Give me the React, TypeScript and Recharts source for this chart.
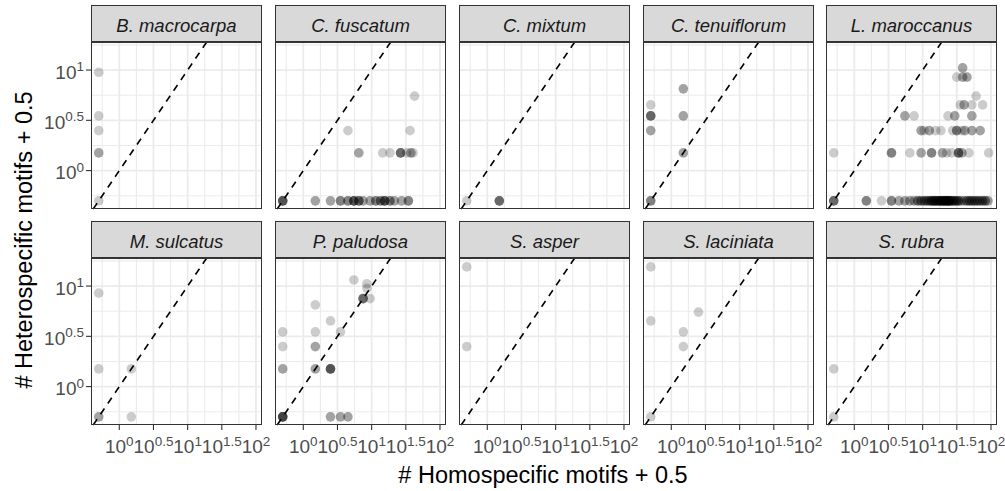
import React from 'react';
import { ScatterChart, Scatter, XAxis, YAxis, ReferenceLine } from 'recharts';

type Obs = [number, number, number]; // [homospecific + 0.5, heterospecific + 0.5, overlapping count]

const FONT = '"Liberation Sans", Arial, Helvetica, sans-serif';

const SPECIES = [
  'B. macrocarpa', 'C. fuscatum', 'C. mixtum', 'C. tenuiflorum', 'L. maroccanus',
  'M. sulcatus', 'P. paludosa', 'S. asper', 'S. laciniata', 'S. rubra',
];

const B_MACROCARPA: Obs[] = [[0.5, 9.5, 1], [0.5, 3.5, 1], [0.5, 2.5, 1], [0.5, 1.5, 2], [0.5, 0.5, 1]];

const C_FUSCATUM: Obs[] = [
  [0.5, 0.5, 5], [1.5, 0.5, 2], [2.5, 0.5, 2], [3.5, 0.5, 3], [4.5, 0.5, 3], [5.5, 0.5, 5],
  [6.5, 0.5, 4], [7.5, 0.5, 2], [9.5, 0.5, 2], [11.5, 0.5, 3], [13.5, 0.5, 3], [15.5, 0.5, 5],
  [18.5, 0.5, 3], [21.5, 0.5, 2], [27.5, 0.5, 2], [34.5, 0.5, 3],
  [6.5, 1.5, 2], [14.5, 1.5, 1], [18.5, 1.5, 1], [26.5, 1.5, 4], [32.5, 1.5, 1], [37.5, 1.5, 2], [40.5, 1.5, 1],
  [4.5, 2.5, 1], [36.5, 2.5, 1],
  [42.5, 5.5, 1],
];

const C_MIXTUM: Obs[] = [[0.5, 0.5, 1], [1.5, 0.5, 4]];

const C_TENUIFLORUM: Obs[] = [
  [0.5, 4.5, 1], [0.5, 3.5, 4], [0.5, 2.5, 2], [0.5, 0.5, 3],
  [1.5, 6.5, 2], [1.5, 3.5, 2], [1.5, 1.5, 2],
];

const L_MAROCCANUS: Obs[] = [
  [38.5, 10.5, 2],
  [31.5, 8.5, 1], [38.5, 8.5, 2], [44.5, 8.5, 2],
  [60.5, 5.5, 1],
  [35.5, 4.5, 1], [40.5, 4.5, 2], [52.5, 4.5, 1], [75.5, 4.5, 1],
  [5.5, 3.5, 2], [7.5, 3.5, 1], [23.5, 3.5, 1], [29.5, 3.5, 2], [52.5, 3.5, 2],
  [9.5, 2.5, 2], [10.5, 2.5, 1], [12.5, 2.5, 2], [15.5, 2.5, 1], [18.5, 2.5, 1], [27.5, 2.5, 1],
  [31.5, 2.5, 3], [37.5, 2.5, 1], [41.5, 2.5, 2], [52.5, 2.5, 2], [69.5, 2.5, 2],
  [0.5, 1.5, 1], [3.5, 1.5, 3], [6.5, 1.5, 1], [9.5, 1.5, 2], [13.5, 1.5, 3], [19.5, 1.5, 2],
  [22.5, 1.5, 1], [26.5, 1.5, 1], [33.5, 1.5, 4], [37.5, 1.5, 2], [47.5, 1.5, 1], [92.5, 1.5, 1],
  [0.5, 0.5, 4], [1.5, 0.5, 3], [2.5, 0.5, 1], [3.5, 0.5, 3], [4.5, 0.5, 2], [5.5, 0.5, 2],
  [6.5, 0.5, 2], [7.5, 0.5, 2], [8.5, 0.5, 3], [9.5, 0.5, 3], [10.5, 0.5, 3], [11.5, 0.5, 3],
  [12.5, 0.5, 3], [13.5, 0.5, 4], [14.5, 0.5, 4], [15.5, 0.5, 4], [16.5, 0.5, 3], [17.5, 0.5, 4],
  [18.5, 0.5, 4], [19.5, 0.5, 3], [20.5, 0.5, 4], [21.5, 0.5, 3], [22.5, 0.5, 4], [23.5, 0.5, 3],
  [24.5, 0.5, 4], [25.5, 0.5, 3], [27.5, 0.5, 4], [29.5, 0.5, 3], [31.5, 0.5, 3], [33.5, 0.5, 3],
  [36.5, 0.5, 2], [40.5, 0.5, 2], [44.5, 0.5, 3], [48.5, 0.5, 3], [52.5, 0.5, 3], [57.5, 0.5, 3],
  [62.5, 0.5, 3], [68.5, 0.5, 3], [75.5, 0.5, 3], [82.5, 0.5, 3], [90.5, 0.5, 2],
];

const M_SULCATUS: Obs[] = [[0.5, 8.5, 1], [0.5, 1.5, 1], [1.5, 1.5, 1], [0.5, 0.5, 2], [1.5, 0.5, 1]];

const P_PALUDOSA: Obs[] = [
  [5.5, 11.5, 1], [8.5, 10.5, 1], [8.5, 9.5, 1], [7.5, 7.5, 4], [9.5, 7.5, 1], [1.5, 6.5, 1],
  [2.5, 4.5, 1], [3.5, 3.5, 1], [0.5, 3.5, 1], [1.5, 3.5, 1], [0.5, 2.5, 1], [1.5, 2.5, 2],
  [0.5, 1.5, 2], [1.5, 1.5, 2], [2.5, 1.5, 5],
  [0.5, 0.5, 6], [2.5, 0.5, 2], [3.5, 0.5, 2], [4.5, 0.5, 2],
];

const S_ASPER: Obs[] = [[0.5, 15.5, 1], [0.5, 2.5, 1]];

const S_LACINIATA: Obs[] = [[0.5, 15.5, 1], [0.5, 4.5, 1], [2.5, 5.5, 1], [1.5, 3.5, 1], [1.5, 2.5, 1], [0.5, 0.5, 1]];

const S_RUBRA: Obs[] = [[0.5, 1.5, 1], [0.5, 0.5, 1]];

const SPECIES_DATA: Obs[][] = [
  B_MACROCARPA, C_FUSCATUM, C_MIXTUM, C_TENUIFLORUM, L_MAROCCANUS,
  M_SULCATUS, P_PALUDOSA, S_ASPER, S_LACINIATA, S_RUBRA,
];

const X_TICK_EXPONENTS = [0, 0.5, 1, 1.5, 2];
const Y_TICK_EXPONENTS = [0, 0.5, 1];
const X_MINOR_EXPONENTS = [-0.25, 0.25, 0.75, 1.25, 1.75];
const Y_MINOR_EXPONENTS = [-0.25, 0.25, 0.75, 1.25];
const X_DOMAIN_EXPONENTS = [-0.414, 2.088];
const Y_DOMAIN_EXPONENTS = [-0.382, 1.279];

const X_TITLE = '# Homospecific motifs + 0.5';
const Y_TITLE = '# Heterospecific motifs + 0.5';

// layout
const PANEL_W = 171;
const PANEL_H = 167;
const STRIP_H = 37;
const COL_LEFT = [91, 275, 459, 643, 826];
const ROW_PANEL_TOP = [42, 258];
const PAD = 22;
const Y_AXIS_W = 69;
const X_AXIS_H = 36;

const pow10 = (e: number) => Math.pow(10, e);
const X_TICKS = X_TICK_EXPONENTS.map(pow10);
const Y_TICKS = Y_TICK_EXPONENTS.map(pow10);
const X_DOMAIN = X_DOMAIN_EXPONENTS.map(pow10);
const Y_DOMAIN = Y_DOMAIN_EXPONENTS.map(pow10);

const expLabel = (value: number, exps: number[]) => {
  const lv = Math.log10(value);
  let best = exps[0];
  for (const e of exps) if (Math.abs(e - lv) < Math.abs(best - lv)) best = e;
  return String(best);
};

const TICK_FONT = 19;
const SUP_FONT = 13.5;

const XTick = (props: any) => {
  const { x, y, payload } = props;
  return (
    <text x={x} y={y + 23} textAnchor="middle" fill="#4D4D4D" fontSize={TICK_FONT} fontFamily={FONT}>
      <tspan>10</tspan>
      <tspan dy={-7.5} fontSize={SUP_FONT}>{expLabel(payload.value, X_TICK_EXPONENTS)}</tspan>
    </text>
  );
};

const YTick = (props: any) => {
  const { x, y, payload } = props;
  return (
    <text x={x} y={y + 8.5} textAnchor="end" fill="#4D4D4D" fontSize={TICK_FONT} fontFamily={FONT}>
      <tspan>10</tspan>
      <tspan dy={-7.5} fontSize={SUP_FONT}>{expLabel(payload.value, Y_TICK_EXPONENTS)}</tspan>
    </text>
  );
};

const Dot = (p: any) => (
  <circle cx={p.cx} cy={p.cy} r={4.8} fill="#000000" fillOpacity={0.2} />
);

const expand = (obs: Obs[]) => {
  const out: { x: number; y: number }[] = [];
  obs.forEach(([x, y, n]) => {
    for (let k = 0; k < n; k++) out.push({ x, y });
  });
  return out;
};

const Panel = ({ index }: { index: number }) => {
  const r = Math.floor(index / 5);
  const c = index % 5;
  const hasY = c === 0;
  const hasX = r === 1;
  const left = COL_LEFT[c] - PAD - (hasY ? Y_AXIS_W : 0);
  const top = ROW_PANEL_TOP[r] - 4;
  const width = PANEL_W + 2 * PAD + (hasY ? Y_AXIS_W : 0);
  const height = PANEL_H + 8 + (hasX ? X_AXIS_H : 0);
  const data = expand(SPECIES_DATA[index]);
  return (
    <div style={{ position: 'absolute', left, top, width, height }}>
      <ScatterChart width={width} height={height} margin={{ top: 4, right: PAD, bottom: 4, left: PAD }}>
        <XAxis
          type="number"
          dataKey="x"
          scale="log"
          domain={X_DOMAIN}
          allowDataOverflow
          ticks={X_TICKS}
          interval={0}
          hide={!hasX}
          height={X_AXIS_H}
          axisLine={false}
          tickSize={5}
          tickMargin={0}
          tickLine={{ stroke: '#333333', strokeWidth: 1.1 }}
          tick={<XTick />}
        />
        <YAxis
          type="number"
          dataKey="y"
          scale="log"
          domain={Y_DOMAIN}
          allowDataOverflow
          ticks={Y_TICKS}
          interval={0}
          hide={!hasY}
          width={Y_AXIS_W}
          axisLine={false}
          tickSize={5}
          tickMargin={2}
          tickLine={{ stroke: '#333333', strokeWidth: 1.1 }}
          tick={<YTick />}
        />
        {X_MINOR_EXPONENTS.map((e) => (
          <ReferenceLine key={'xm' + e} x={pow10(e)} stroke="#EBEBEB" strokeWidth={1.1} zIndex={-100} />
        ))}
        {Y_MINOR_EXPONENTS.map((e) => (
          <ReferenceLine key={'ym' + e} y={pow10(e)} stroke="#EBEBEB" strokeWidth={1.1} zIndex={-100} />
        ))}
        {X_TICK_EXPONENTS.map((e) => (
          <ReferenceLine key={'xM' + e} x={pow10(e)} stroke="#EBEBEB" strokeWidth={1.8} zIndex={-100} />
        ))}
        {Y_TICK_EXPONENTS.map((e) => (
          <ReferenceLine key={'yM' + e} y={pow10(e)} stroke="#EBEBEB" strokeWidth={1.8} zIndex={-100} />
        ))}
        <ReferenceLine
          segment={[{ x: Y_DOMAIN[0], y: Y_DOMAIN[0] }, { x: Y_DOMAIN[1], y: Y_DOMAIN[1] }]}
          stroke="#000000"
          strokeWidth={1.6}
          strokeDasharray="7 6"
          ifOverflow="visible"
        />
        <Scatter data={data} isAnimationActive={false} shape={Dot} />
      </ScatterChart>
    </div>
  );
};

const Strip = ({ index }: { index: number }) => {
  const r = Math.floor(index / 5);
  const c = index % 5;
  return (
    <svg
      width={PANEL_W}
      height={STRIP_H}
      style={{ position: 'absolute', left: COL_LEFT[c], top: ROW_PANEL_TOP[r] - STRIP_H, overflow: 'visible' }}
    >
      <rect x={0.5} y={0.5} width={PANEL_W - 1} height={STRIP_H - 1} fill="#D9D9D9" stroke="#333333" strokeWidth={1} />
      <text x={PANEL_W / 2} y={26.5} textAnchor="middle" fontStyle="italic" fontSize={18.5} fill="#1A1A1A" fontFamily={FONT}>
        {SPECIES[index]}
      </text>
    </svg>
  );
};

const Border = ({ index }: { index: number }) => {
  const r = Math.floor(index / 5);
  const c = index % 5;
  return (
    <div
      style={{
        position: 'absolute',
        left: COL_LEFT[c],
        top: ROW_PANEL_TOP[r],
        width: PANEL_W,
        height: PANEL_H,
        border: '1px solid #333333',
        boxSizing: 'border-box',
        pointerEvents: 'none',
      }}
    />
  );
};

export default function App() {
  const idx = SPECIES.map((_, i) => i);
  return (
    <div
      style={{
        position: 'absolute',
        left: 0,
        top: 0,
        width: 1005,
        height: 491,
        background: '#FFFFFF',
        overflow: 'hidden',
        fontFamily: FONT,
      }}
    >
      {idx.map((i) => (
        <Panel key={'p' + i} index={i} />
      ))}
      {idx.map((i) => (
        <Border key={'b' + i} index={i} />
      ))}
      {idx.map((i) => (
        <Strip key={'s' + i} index={i} />
      ))}
      <svg width={1005} height={491} style={{ position: 'absolute', left: 0, top: 0, pointerEvents: 'none' }}>
        <text x={543} y={483} textAnchor="middle" fontSize={23.5} fill="#000000" fontFamily={FONT}>
          {X_TITLE}
        </text>
        <text
          transform="translate(32,240) rotate(-90)"
          textAnchor="middle"
          fontSize={23.5}
          fill="#000000"
          fontFamily={FONT}
        >
          {Y_TITLE}
        </text>
      </svg>
    </div>
  );
}
